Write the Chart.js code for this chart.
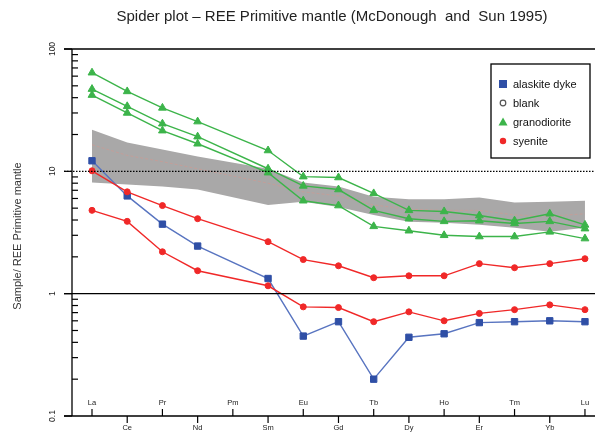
<!DOCTYPE html>
<html>
<head>
<meta charset="utf-8">
<script src="https://cdn.jsdelivr.net/npm/chart.js@4/dist/chart.umd.min.js"></script>
<style>
  body { margin: 0; background: #fff; }
  #wrap { width: 595px; height: 433px; }
</style>
</head>
<body>
<div id="wrap"><canvas id="spider" width="595" height="433"></canvas></div>
<script>
// REE order on the x axis (Pm has no analyses)
var elements = ['La','Ce','Pr','Nd','Pm','Sm','Eu','Gd','Tb','Dy','Ho','Er','Tm','Yb','Lu'];
var yTicks = [0.1, 1, 10, 100];
var yTickLabels = ['0.1', '1', '10', '100'];

var alaskite = [12.2, 6.3, 3.7, 2.45, null, 1.33, 0.45, 0.59, 0.20, 0.44, 0.47, 0.58, 0.59, 0.60, 0.59];
var syenite1 = [10.1, 6.8, 5.25, 4.1, null, 2.66, 1.90, 1.69, 1.35, 1.40, 1.40, 1.76, 1.63, 1.76, 1.93];
var syenite2 = [4.8, 3.9, 2.2, 1.54, null, 1.16, 0.78, 0.77, 0.59, 0.71, 0.60, 0.69, 0.74, 0.81, 0.74];
var grano1 = [64, 45, 33, 25.5, null, 14.8, 9.05, 8.9, 6.6, 4.8, 4.7, 4.35, 3.95, 4.5, 3.65];
var grano2 = [47, 34, 24.5, 19.2, null, 10.5, 7.6, 7.1, 4.8, 4.1, 3.9, 3.95, 3.75, 3.9, 3.4];
var grano3 = [42, 30, 21.5, 16.8, null, 9.75, 5.75, 5.25, 3.55, 3.27, 3.0, 2.93, 2.93, 3.2, 2.82];
// grey reference field and its median
var fieldUpper = [21.9, 17.2, 15.1, 13.2, null, 10.5, 8.1, 7.5, 6.2, 5.9, 5.9, 6.1, 5.55, 5.65, 5.75];
var fieldLower = [8.1, 7.8, 7.5, 7.1, null, 5.3, 5.65, 5.1, 4.4, 3.88, 3.8, 3.66, 3.46, 3.21, 3.46];
var fieldMid = [16.5, 13.5, 12, 10.5, null, 8, 6.8, 6.3, 5.3, 4.9, 4.8, 4.8, 4.4, 4.3, 4.5];

var legendItems = ['alaskite dyke', 'blank', 'granodiorite', 'syenite'];

var BLUE = '#2f4fa6', BLUE_LINE = '#5874c0';
var GREEN = '#3cb44a', RED = '#f02828';

function pts(arr) {
    var out = [];
    arr.forEach(function (v, i) { if (v != null) out.push({x: i, y: v}); });
    return out;
}

function series(arr, color, lineColor, shape, r) {
    return {
        data: pts(arr),
        borderColor: lineColor,
        backgroundColor: color,
        pointBackgroundColor: color,
        pointBorderColor: color,
        borderWidth: 1.4,
        pointStyle: shape,
        pointRadius: r,
        pointBorderWidth: 1,
        tension: 0,
        fill: false
    };
}

var axesPlugin = {
    id: 'spiderAxes',
    afterDraw: function (chart) {
        var c = chart.ctx, a = chart.chartArea;
        var xs = chart.scales.x, ys = chart.scales.y;
        c.save();
        c.strokeStyle = '#000';
        c.fillStyle = '#222';
        c.lineWidth = 1.3;
        // frame top, left and bottom
        c.beginPath();
        c.moveTo(64, a.top); c.lineTo(a.right, a.top);
        c.moveTo(a.left, a.top); c.lineTo(a.left, a.bottom);
        c.moveTo(64, a.bottom); c.lineTo(a.right, a.bottom);
        c.stroke();
        // solid line at 1
        var y1 = ys.getPixelForValue(1);
        c.beginPath(); c.moveTo(64, y1); c.lineTo(a.right, y1); c.stroke();
        // dotted line at 10
        var y10 = ys.getPixelForValue(10);
        c.setLineDash([1.5, 1.5]);
        c.lineWidth = 1.2;
        c.beginPath(); c.moveTo(64, y10); c.lineTo(a.right, y10); c.stroke();
        c.setLineDash([]);
        // minor ticks inside the axis
        c.lineWidth = 1.2;
        for (var d = 0.1; d < 100; d *= 10) {
            for (var m = 2; m <= 9; m++) {
                var yy = ys.getPixelForValue(d * m);
                c.beginPath(); c.moveTo(a.left, yy); c.lineTo(a.left + 6, yy); c.stroke();
            }
        }
        // y tick labels, rotated
        c.font = '8.5px "Liberation Sans", Arial, sans-serif';
        c.textAlign = 'center';
        c.textBaseline = 'middle';
        yTicks.forEach(function (t, i) {
            var yy = ys.getPixelForValue(t);
            c.beginPath(); c.moveTo(64, yy); c.lineTo(a.left, yy); c.stroke();
            c.save();
            c.translate(53, yy);
            c.rotate(-Math.PI / 2);
            c.fillText(yTickLabels[i], 0, 0);
            c.restore();
        });
        // y title
        c.save();
        c.font = '11px "Liberation Sans", Arial, sans-serif';
        c.fillStyle = '#333';
        c.translate(18, 236);
        c.rotate(-Math.PI / 2);
        c.fillText('Sample/ REE Primitive mantle', 0, 0);
        c.restore();
        // x ticks, alternating up / down
        c.font = '7.5px "Liberation Sans", Arial, sans-serif';
        elements.forEach(function (el, i) {
            var xx = xs.getPixelForValue(i);
            c.beginPath();
            if (i % 2 === 0) {
                c.moveTo(xx, a.bottom); c.lineTo(xx, a.bottom - 7); c.stroke();
                c.fillText(el, xx, a.bottom - 13);
            } else {
                c.moveTo(xx, a.bottom); c.lineTo(xx, a.bottom + 7); c.stroke();
                c.fillText(el, xx, a.bottom + 12);
            }
        });
        // title
        c.font = '15px "Liberation Sans", Arial, sans-serif';
        c.fillStyle = '#222';
        c.fillText('Spider plot \u2013 REE Primitive mantle (McDonough  and  Sun 1995)', 332, 17);
        // legend
        c.fillStyle = '#fff';
        c.fillRect(491, 64, 99, 94);
        c.lineWidth = 1.3;
        c.strokeStyle = '#000';
        c.strokeRect(491, 64, 99, 94);
        c.font = '11px "Liberation Sans", Arial, sans-serif';
        c.textAlign = 'left';
        var ly = [84, 103, 122, 141];
        legendItems.forEach(function (name, i) {
            var cx = 503, cy = ly[i];
            if (i === 0) { c.fillStyle = BLUE; c.fillRect(cx - 4, cy - 4, 8, 8); }
            if (i === 1) {
                c.strokeStyle = '#555'; c.lineWidth = 1.2;
                c.beginPath(); c.arc(cx, cy, 2.8, 0, Math.PI * 2); c.stroke();
            }
            if (i === 2) {
                c.fillStyle = GREEN;
                c.beginPath(); c.moveTo(cx, cy - 4.5); c.lineTo(cx + 4.5, cy + 3.5); c.lineTo(cx - 4.5, cy + 3.5); c.closePath(); c.fill();
            }
            if (i === 3) {
                c.fillStyle = RED;
                c.beginPath(); c.arc(cx, cy, 3.2, 0, Math.PI * 2); c.fill();
            }
            c.fillStyle = '#111';
            c.fillText(name, 513, cy + 1);
        });
        c.restore();
    }
};

var ctx = document.getElementById('spider').getContext('2d');
var spiderChart = new Chart(ctx, {
    type: 'line',
    data: {
        datasets: [
            { data: pts(fieldUpper), borderWidth: 0, pointRadius: 0, fill: false, order: 10, borderColor: 'rgba(0,0,0,0)' },
            { data: pts(fieldLower), borderWidth: 0, pointRadius: 0, fill: '-1', order: 10,
              backgroundColor: '#a9a8a8', borderColor: 'rgba(0,0,0,0)' },
            { data: pts(fieldMid), borderWidth: 1, pointRadius: 0, fill: false, order: 9,
              borderColor: 'rgba(215,150,140,0.55)', borderDash: [3, 2] },
            series(grano1, GREEN, GREEN, 'triangle', 4.5),
            series(grano2, GREEN, GREEN, 'triangle', 4.5),
            series(grano3, GREEN, GREEN, 'triangle', 4.5),
            series(syenite1, RED, RED, 'circle', 3),
            series(syenite2, RED, RED, 'circle', 3),
            series(alaskite, BLUE, BLUE_LINE, 'rect', 4.5)
        ]
    },
    options: {
        responsive: false,
        animation: false,
        layout: { autoPadding: false, padding: { left: 72, top: 49, right: 0, bottom: 17 } },
        plugins: { legend: { display: false }, tooltip: { enabled: false } },
        scales: {
            x: { type: 'linear', min: -0.568, max: 14.285, display: false },
            y: { type: 'logarithmic', min: 0.1, max: 100, display: false }
        }
    },
    plugins: [axesPlugin]
});
</script>
</body>
</html>
